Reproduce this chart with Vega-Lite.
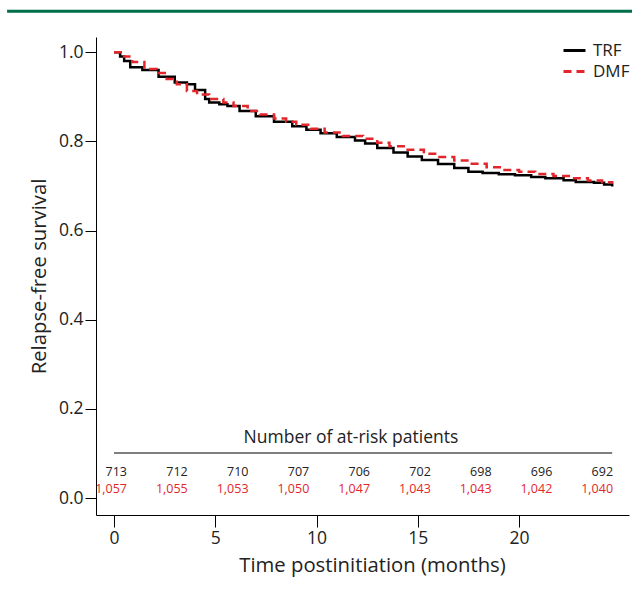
{
  "$schema": "https://vega.github.io/schema/vega-lite/v6.json",
  "autosize": "none",
  "width": 533,
  "height": 478,
  "padding": {"left": 96, "top": 37, "right": 3, "bottom": 77},
  "background": "white",
  "config": {
    "font": "Open Sans",
    "view": {"stroke": null},
    "axis": {"grid": false, "domainColor": "#000", "tickColor": "#000", "labelColor": "#222", "titleColor": "#222", "titleFontWeight": "normal", "labelFont": "Open Sans", "titleFont": "Open Sans"}
  },
  "datasets": {
    "curves": [
      {"group": "TRF", "t": 0, "s": 1.0},
      {"group": "TRF", "t": 0.3, "s": 0.99},
      {"group": "TRF", "t": 0.5, "s": 0.98},
      {"group": "TRF", "t": 0.8, "s": 0.966},
      {"group": "TRF", "t": 1.4, "s": 0.96},
      {"group": "TRF", "t": 2.2, "s": 0.945},
      {"group": "TRF", "t": 3.0, "s": 0.932},
      {"group": "TRF", "t": 3.6, "s": 0.928},
      {"group": "TRF", "t": 4.0, "s": 0.915},
      {"group": "TRF", "t": 4.5, "s": 0.895},
      {"group": "TRF", "t": 4.7, "s": 0.887},
      {"group": "TRF", "t": 5.2, "s": 0.883},
      {"group": "TRF", "t": 5.6, "s": 0.879},
      {"group": "TRF", "t": 6.2, "s": 0.868},
      {"group": "TRF", "t": 7.0, "s": 0.856},
      {"group": "TRF", "t": 7.9, "s": 0.844},
      {"group": "TRF", "t": 8.8, "s": 0.834},
      {"group": "TRF", "t": 9.5, "s": 0.826},
      {"group": "TRF", "t": 10.2, "s": 0.818},
      {"group": "TRF", "t": 11.0, "s": 0.81},
      {"group": "TRF", "t": 11.9, "s": 0.802},
      {"group": "TRF", "t": 12.4, "s": 0.795},
      {"group": "TRF", "t": 13.0, "s": 0.785},
      {"group": "TRF", "t": 13.8, "s": 0.775},
      {"group": "TRF", "t": 14.5, "s": 0.766},
      {"group": "TRF", "t": 15.2, "s": 0.758},
      {"group": "TRF", "t": 16.0, "s": 0.749},
      {"group": "TRF", "t": 16.8, "s": 0.74},
      {"group": "TRF", "t": 17.5, "s": 0.732},
      {"group": "TRF", "t": 18.2, "s": 0.729},
      {"group": "TRF", "t": 19.0, "s": 0.726},
      {"group": "TRF", "t": 19.8, "s": 0.724},
      {"group": "TRF", "t": 20.6, "s": 0.72},
      {"group": "TRF", "t": 21.3, "s": 0.717},
      {"group": "TRF", "t": 22.2, "s": 0.713},
      {"group": "TRF", "t": 22.8, "s": 0.709},
      {"group": "TRF", "t": 23.7, "s": 0.707},
      {"group": "TRF", "t": 24.2, "s": 0.703},
      {"group": "TRF", "t": 24.6, "s": 0.699},
      {"group": "DMF", "t": 0, "s": 1.0},
      {"group": "DMF", "t": 0.5, "s": 0.99},
      {"group": "DMF", "t": 0.9, "s": 0.978},
      {"group": "DMF", "t": 1.5, "s": 0.962},
      {"group": "DMF", "t": 2.1, "s": 0.953},
      {"group": "DMF", "t": 2.6, "s": 0.94},
      {"group": "DMF", "t": 3.1, "s": 0.928},
      {"group": "DMF", "t": 3.6, "s": 0.913},
      {"group": "DMF", "t": 4.1, "s": 0.905},
      {"group": "DMF", "t": 4.7, "s": 0.895},
      {"group": "DMF", "t": 5.4, "s": 0.887},
      {"group": "DMF", "t": 5.9, "s": 0.879},
      {"group": "DMF", "t": 6.6, "s": 0.868},
      {"group": "DMF", "t": 7.2, "s": 0.86},
      {"group": "DMF", "t": 7.9, "s": 0.851},
      {"group": "DMF", "t": 8.5, "s": 0.844},
      {"group": "DMF", "t": 9.0, "s": 0.837},
      {"group": "DMF", "t": 9.7, "s": 0.828},
      {"group": "DMF", "t": 10.4, "s": 0.82},
      {"group": "DMF", "t": 11.3, "s": 0.812},
      {"group": "DMF", "t": 12.3, "s": 0.806},
      {"group": "DMF", "t": 13.0, "s": 0.797},
      {"group": "DMF", "t": 13.6, "s": 0.789},
      {"group": "DMF", "t": 14.4, "s": 0.781},
      {"group": "DMF", "t": 15.3, "s": 0.772},
      {"group": "DMF", "t": 16.0, "s": 0.765},
      {"group": "DMF", "t": 16.8, "s": 0.757},
      {"group": "DMF", "t": 17.6, "s": 0.75},
      {"group": "DMF", "t": 18.4, "s": 0.742},
      {"group": "DMF", "t": 19.2, "s": 0.736},
      {"group": "DMF", "t": 20.0, "s": 0.732},
      {"group": "DMF", "t": 20.8, "s": 0.727},
      {"group": "DMF", "t": 21.7, "s": 0.722},
      {"group": "DMF", "t": 22.6, "s": 0.717},
      {"group": "DMF", "t": 23.4, "s": 0.712},
      {"group": "DMF", "t": 24.1, "s": 0.708},
      {"group": "DMF", "t": 24.6, "s": 0.705}
    ],
    "atrisk": [
      {"group": "TRF", "t": 0, "n": 713},
      {"group": "TRF", "t": 3, "n": 712},
      {"group": "TRF", "t": 6, "n": 710},
      {"group": "TRF", "t": 9, "n": 707},
      {"group": "TRF", "t": 12, "n": 706},
      {"group": "TRF", "t": 15, "n": 702},
      {"group": "TRF", "t": 18, "n": 698},
      {"group": "TRF", "t": 21, "n": 696},
      {"group": "TRF", "t": 24, "n": 692},
      {"group": "DMF", "t": 0, "n": 1057},
      {"group": "DMF", "t": 3, "n": 1055},
      {"group": "DMF", "t": 6, "n": 1053},
      {"group": "DMF", "t": 9, "n": 1050},
      {"group": "DMF", "t": 12, "n": 1047},
      {"group": "DMF", "t": 15, "n": 1043},
      {"group": "DMF", "t": 18, "n": 1043},
      {"group": "DMF", "t": 21, "n": 1042},
      {"group": "DMF", "t": 24, "n": 1040}
    ]
  },
  "layer": [
    {
      "data": {"values": [{}]},
      "mark": {"type": "rule", "color": "#006e4a", "strokeWidth": 3, "clip": false},
      "encoding": {
        "x": {"datum": -5.28, "type": "quantitative"},
        "x2": {"datum": 25.6},
        "y": {"datum": 1.092, "type": "quantitative"}
      }
    },
    {
      "data": {"name": "curves"},
      "mark": {"type": "line", "interpolate": "step-after", "strokeWidth": 2.5},
      "encoding": {
        "x": {
          "field": "t", "type": "quantitative",
          "scale": {"domain": [-0.89, 25.43], "nice": false, "zero": false},
          "axis": {"values": [0, 5, 10, 15, 20], "title": "Time postinitiation (months)", "labelFontSize": 17.5, "titleFontSize": 20.3, "titleX": 276, "tickSize": 12, "labelPadding": 2, "titlePadding": 9, "labelFlush": false}
        },
        "y": {
          "field": "s", "type": "quantitative",
          "scale": {"domain": [-0.038, 1.034], "nice": false, "zero": false},
          "axis": {"values": [0, 0.2, 0.4, 0.6, 0.8, 1.0], "format": ".1f", "title": "Relapse-free survival", "labelFontSize": 17.5, "titleFontSize": 20.3, "tickSize": 11, "labelPadding": 2, "titlePadding": 9}
        },
        "color": {
          "field": "group", "type": "nominal",
          "scale": {"domain": ["TRF", "DMF"], "range": ["#000000", "#e3262b"]},
          "legend": {"title": null, "orient": "none", "legendX": 466, "legendY": 1, "symbolType": "stroke", "symbolStrokeWidth": 3, "symbolSize": 484, "labelFontSize": 17, "labelColor": "#222", "labelOffset": 6, "rowPadding": 0, "padding": 0}
        },
        "strokeDash": {
          "field": "group", "type": "nominal",
          "scale": {"domain": ["TRF", "DMF"], "range": [[1, 0], [8, 5]]},
          "legend": {"title": null, "orient": "none", "legendX": 466, "legendY": 1, "symbolType": "stroke", "symbolStrokeWidth": 3, "symbolSize": 484, "labelFontSize": 17, "labelColor": "#222", "labelOffset": 6, "rowPadding": 0, "padding": 0}
        }
      }
    },
    {
      "data": {"values": [{}]},
      "mark": {"type": "rule", "color": "#000", "strokeWidth": 1.2},
      "encoding": {
        "x": {"datum": 0, "type": "quantitative"},
        "x2": {"datum": 24.6},
        "y": {"datum": 0.101, "type": "quantitative"}
      }
    },
    {
      "data": {"values": [{"label": "Number of at-risk patients"}]},
      "mark": {"type": "text", "fontSize": 17.5, "color": "#222", "baseline": "middle", "align": "center"},
      "encoding": {
        "x": {"datum": 11.7, "type": "quantitative"},
        "y": {"datum": 0.135, "type": "quantitative"},
        "text": {"field": "label"}
      }
    },
    {
      "data": {"name": "atrisk"},
      "transform": [{"filter": "datum.group === 'TRF'"}],
      "mark": {"type": "text", "fontSize": 12.5, "color": "#222", "baseline": "middle", "align": "right", "dx": 13},
      "encoding": {
        "x": {"field": "t", "type": "quantitative"},
        "y": {"datum": 0.058, "type": "quantitative"},
        "text": {"field": "n", "type": "quantitative", "format": ","}
      }
    },
    {
      "data": {"name": "atrisk"},
      "transform": [{"filter": "datum.group === 'DMF'"}],
      "mark": {"type": "text", "fontSize": 12.5, "color": "#e3262b", "baseline": "middle", "align": "right", "dx": 13},
      "encoding": {
        "x": {"field": "t", "type": "quantitative"},
        "y": {"datum": 0.021, "type": "quantitative"},
        "text": {"field": "n", "type": "quantitative", "format": ","}
      }
    }
  ]
}
